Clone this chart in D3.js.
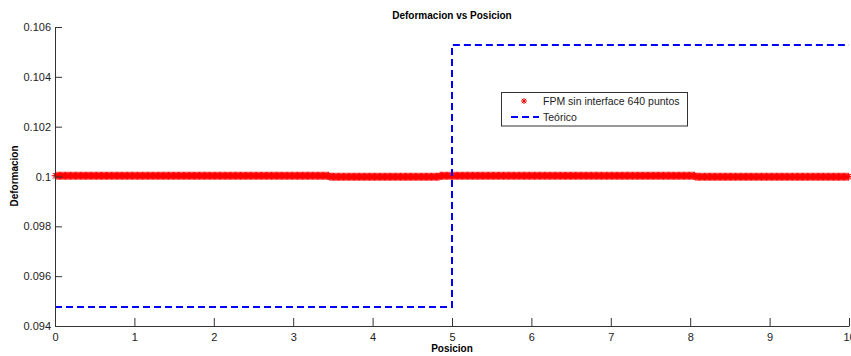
<!DOCTYPE html>
<html><head><meta charset="utf-8">
<script src="https://cdn.jsdelivr.net/npm/d3@7"></script>
<style>body{margin:0;background:#fff}svg{display:block}text{font-family:"Liberation Sans",Arial,sans-serif}</style>
</head><body><svg id="c" width="851" height="356"></svg>
<script>
// ---- data ----
const xTicks = [0,1,2,3,4,5,6,7,8,9,10];
const yTicks = [0.094,0.096,0.098,0.1,0.102,0.104,0.106];
const yTickLabels = ["0.094","0.096","0.098","0.1","0.102","0.104","0.106"];
const fpmCount = 640;
// FPM series as runs: [start, end) in x and value
const fpmRunStart = [0, 3.45, 4.85, 8.07];
const fpmRunEnd   = [3.45, 4.85, 8.07, 10];
const fpmRunValue = [0.10003, 0.09999, 0.10003, 0.09999];
// theoretical step
const teoX = [0, 5, 5, 10];
const teoY = [0.09476, 0.09476, 0.10528, 0.10528];
const labels = {title:"Deformacion vs Posicion", x:"Posicion", y:"Deformacion",
  s1:"FPM sin interface 640 puntos", s2:"Teórico"};

// build FPM points
const fpmX = d3.range(fpmCount).map(i => (i+0.5)*10/fpmCount);
const fpmY = fpmX.map(x => { const k = fpmRunStart.findIndex((s,j)=> x>=s && x<fpmRunEnd[j]); return fpmRunValue[k]; });

const svg = d3.select("#c");
const L=55, R=849, T=27, B=326;
const x = d3.scaleLinear().domain([0,10]).range([L,R]);
const y = d3.scaleLinear().domain([0.094,0.106]).range([B,T]);
const axisColor = "#333";

// FPM markers (MATLAB '*')
const star = "M-4,0H4M0,-4V4M-2.8,-2.8L2.8,2.8M-2.8,2.8L2.8,-2.8";
svg.append("g").selectAll("path").data(fpmX).join("path")
  .attr("d", star).attr("transform",(d,i)=>`translate(${x(d)},${y(fpmY[i])})`)
  .attr("stroke","#ff0000").attr("stroke-width",1).attr("fill","none");

// theoretical line
svg.append("path").datum(teoX.map((d,i)=>[d,teoY[i]]))
  .attr("d", d3.line().x(d=>x(d[0])).y(d=>y(d[1])))
  .attr("fill","none").attr("stroke","#0000ff").attr("stroke-width",2).attr("stroke-dasharray","7,4");

// axes
const xa = svg.append("g").attr("transform",`translate(0,${B})`)
  .call(d3.axisBottom(x).tickValues(xTicks).tickFormat(d3.format("d")).tickSizeInner(-8).tickSizeOuter(0).tickPadding(5));
const ya = svg.append("g").attr("transform",`translate(${L},0)`)
  .call(d3.axisLeft(y).tickValues(yTicks).tickFormat((d,i)=>yTickLabels[i]).tickSizeInner(-7).tickSizeOuter(0).tickPadding(4));
[xa,ya].forEach(g=>{
  g.select(".domain").attr("stroke",axisColor);
  g.selectAll(".tick line").attr("stroke",axisColor);
  g.selectAll(".tick text").attr("fill","#222").attr("font-size",11);
});
ya.selectAll(".tick text").attr("x",-4);
xa.selectAll(".tick text").attr("dy","0.9em");

// titles
svg.append("text").attr("x",452).attr("y",19).attr("text-anchor","middle")
  .attr("font-size",10).attr("font-weight","bold").text(labels.title);
svg.append("text").attr("x",452).attr("y",352).attr("text-anchor","middle")
  .attr("font-size",10).attr("font-weight","bold").text(labels.x);
svg.append("text").attr("transform","translate(18,176) rotate(-90)").attr("text-anchor","middle")
  .attr("font-size",10).attr("font-weight","bold").text(labels.y);

// legend
const lg = svg.append("g");
lg.append("rect").attr("x",501.5).attr("y",92.5).attr("width",186).attr("height",33.5)
  .attr("fill","#fff").attr("stroke","#333").attr("stroke-width",1);
lg.append("path").attr("d","M-3,0H3M0,-3V3M-2.2,-2.2L2.2,2.2M-2.2,2.2L2.2,-2.2").attr("transform","translate(524,101)")
  .attr("stroke","#ff0000").attr("fill","none");
lg.append("line").attr("x1",511).attr("x2",539).attr("y1",117).attr("y2",117)
  .attr("stroke","#0000ff").attr("stroke-width",2).attr("stroke-dasharray","7,4");
lg.append("text").attr("x",543).attr("y",105).attr("font-size",10.5).attr("fill","#222").text(labels.s1);
lg.append("text").attr("x",543).attr("y",121).attr("font-size",10.5).attr("fill","#222").text(labels.s2);
</script></body></html>
